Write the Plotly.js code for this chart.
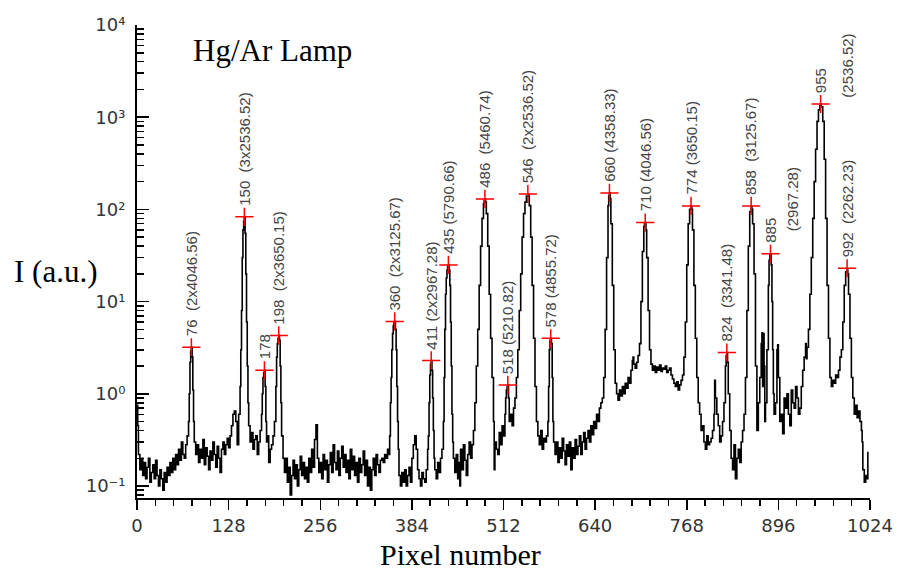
<!DOCTYPE html>
<html>
<head>
<meta charset="utf-8">
<script src="https://cdn.plot.ly/plotly-3.0.1.min.js"></script>
<style>html,body{margin:0;padding:0;background:#fff;}#chart{width:898px;height:574px;}</style>
</head>
<body>
<div id="chart"></div>
<script>
// Spectrum: [pixel, intensity (a.u.)]
const spectrum = [
[0,0.75],[1,0.45],[2,0.22],[4,0.15],[6,0.2],[8,0.13],[10,0.18],[12,0.12],[14,0.16],[16,0.2],[18,0.11],[20,0.14],[22,0.17],[24,0.12],[26,0.19],[28,0.13],[30,0.1],[32,0.15],[34,0.12],[36,0.09],[38,0.14],[40,0.11],[42,0.16],[44,0.13],[46,0.18],[48,0.14],[50,0.2],[52,0.15],[54,0.22],[56,0.17],[58,0.25],[60,0.19],[62,0.3],[64,0.22],[66,0.2],[68,0.28],[70,0.35],[72,0.5],[73,1.0],[74,2.2],[75,2.9],[76,3.2],[77,2.5],[78,1.1],[79,0.5],[80,0.3],
[82,0.22],[84,0.28],[86,0.18],[88,0.25],[90,0.2],[92,0.32],[94,0.17],[96,0.26],[98,0.21],[100,0.15],[102,0.24],[104,0.19],[106,0.3],[108,0.22],[110,0.16],[112,0.27],[114,0.2],[116,0.14],[118,0.25],[120,0.3],[122,0.22],[124,0.28],[126,0.33],[128,0.26],[130,0.35],[132,0.45],[134,0.6],[136,0.65],[138,0.5],[140,0.28],[142,0.6],[144,1.2],[145,3],[146,8],[147,30],[148,60],[149,75],[150,83],[151,55],[152,20],[153,6],[154,2],[155,0.8],[156,0.45],[158,0.3],[160,0.38],[162,0.25],[164,0.32],[166,0.35],[168,0.22],[170,0.3],[172,0.4],[174,0.6],[175,1.0],[176,1.5],[177,1.7],[178,1.8],[179,1.2],[180,0.5],[181,0.3],[182,0.35],[184,0.18],[186,0.25],[188,0.28],[190,0.35],[192,0.5],[194,1.2],[195,2.5],[196,3.5],[197,4.0],[198,4.3],[199,3.8],[200,2.0],[201,0.8],[202,0.35],[204,0.2],
[206,0.14],[208,0.2],[210,0.11],[212,0.16],[214,0.08],[216,0.13],[218,0.19],[220,0.12],[222,0.17],[224,0.1],[226,0.15],[228,0.21],[230,0.13],[232,0.18],[234,0.12],[236,0.16],[238,0.11],[240,0.2],[242,0.14],[244,0.25],[246,0.16],[248,0.32],[250,0.46],[252,0.2],[254,0.14],[256,0.18],[258,0.12],[260,0.22],[262,0.15],[264,0.19],[266,0.11],[268,0.17],[270,0.23],[272,0.14],[274,0.28],[276,0.18],[278,0.15],[280,0.24],[282,0.13],[284,0.2],[286,0.27],[288,0.16],[290,0.22],[292,0.14],[294,0.19],[296,0.12],[298,0.25],[300,0.15],[302,0.21],[304,0.13],[306,0.18],[308,0.11],[310,0.2],[312,0.14],[314,0.17],[316,0.24],[318,0.13],[320,0.19],[322,0.1],[324,0.16],[326,0.09],[328,0.15],[330,0.2],[332,0.13],[334,0.22],[336,0.17],[338,0.14],[340,0.19],[342,0.2],[344,0.18],[346,0.22],[348,0.2],[350,0.25],[352,0.22],
[353,0.35],[354,0.8],[355,1.5],[356,3],[357,4.5],[358,5.5],[359,6],[360,6.1],[361,5],[362,3],[363,1.2],[364,0.5],[365,0.25],[366,0.13],[368,0.1],[370,0.14],[372,0.11],[374,0.15],[376,0.1],[378,0.13],[380,0.16],[382,0.11],[384,0.2],[386,0.28],[388,0.35],[390,0.25],[392,0.15],[394,0.12],[396,0.1],[398,0.14],[400,0.12],[402,0.11],[404,0.15],[406,0.25],[407,0.35],[408,0.8],[409,1.6],[410,2.1],[411,2.3],[412,1.8],[413,0.9],[414,0.4],[415,0.2],[416,0.15],[418,0.12],[420,0.18],[422,0.14],[424,0.2],[426,0.25],[428,0.5],[429,1.5],[430,5],[431,12],[432,18],[433,22],[434,24],[435,25],[436,22],[437,15],[438,6],[439,2],[440,0.6],[441,0.3],
[442,0.2],[444,0.14],[446,0.22],[448,0.12],[450,0.18],[451,0.1],[452,0.25],[454,0.15],[456,0.28],[458,0.19],[460,0.13],[462,0.22],[464,0.3],[466,0.2],[468,0.28],[470,0.4],[472,0.8],[474,2],[476,5],[478,15],[480,40],[482,80],[484,115],[485,125],[486,130],[487,120],[488,90],[490,40],[492,12],[494,4],[496,1.5],[498,0.5],[499,0.15],[500,0.3],[502,0.25],[504,0.22],[506,0.38],[508,0.28],[510,0.45],[512,0.35],[514,0.6],[515,0.9],[516,1.1],[517,1.2],[518,1.25],[519,0.9],[520,0.5],[522,0.6],[524,0.45],[526,0.7],[528,0.9],[530,1.5],[532,3],[534,8],[536,20],[538,50],[540,90],[542,120],[544,140],[546,147],[547,140],[548,110],[550,50],[552,15],[554,4],[556,1.2],[558,0.5],[560,0.35],[562,0.28],[564,0.4],[566,0.25],[568,0.33],[570,0.3],[572,0.35],[574,0.5],[575,1.2],[576,3],[577,3.8],[578,4.0],[579,3.5],[580,1.5],[581,0.5],[582,0.3],
[584,0.22],[586,0.3],[588,0.18],[590,0.26],[592,0.2],[594,0.33],[596,0.24],[598,0.17],[600,0.28],[602,0.21],[604,0.3],[606,0.15],[608,0.26],[610,0.2],[612,0.32],[614,0.22],[616,0.27],[618,0.35],[620,0.22],[622,0.3],[624,0.38],[626,0.25],[628,0.33],[630,0.4],[632,0.3],[634,0.45],[636,0.36],[638,0.5],[640,0.42],[642,0.6],[644,0.5],[646,0.7],[648,0.8],[650,0.9],[652,1.5],[654,5],[656,30],[658,110],[659,140],[660,151],[661,130],[662,70],[664,15],[666,3],[668,1.3],[670,1.0],[672,0.85],[674,1.1],[676,0.95],[678,1.2],[680,1.0],[682,1.3],[684,1.15],[686,1.5],[688,1.3],[690,1.8],[692,2.3],[693,2.5],[694,2.1],[696,1.9],[698,2.2],[700,2.6],[702,3.5],[704,10],[706,35],[708,65],[709,70],[710,72],[711,60],[712,30],[714,8],[716,3],
[718,2.1],[720,1.8],[722,2.0],[724,1.7],[726,1.95],[728,1.8],[730,2.05],[732,1.75],[734,1.9],[736,1.85],[738,2.0],[740,1.7],[742,1.8],[744,1.9],[746,1.6],[748,1.45],[750,1.3],[752,1.2],[754,1.35],[756,1.1],[758,1.25],[760,1.4],[762,1.6],[764,2.5],[766,6],[768,25],[770,70],[772,100],[774,109],[775,100],[776,60],[778,15],[780,4],[782,1.5],[784,0.8],[786,0.6],[788,0.4],[790,0.45],[792,0.3],[794,0.25],[796,0.35],[798,0.28],[800,0.3],[802,0.33],[804,0.4],[806,0.6],[807,1.4],[808,0.9],[810,0.6],[812,0.45],[814,0.3],[816,0.35],[818,0.5],[820,0.8],[822,2.0],[823,2.6],[824,2.8],[825,2.2],[826,1.0],[828,0.4],[830,0.2],[832,0.15],[834,0.28],[836,0.12],[838,0.2],[840,0.25],[842,0.18],[844,0.3],[846,0.4],[848,0.6],[850,1.5],[852,8],[854,40],[856,95],[858,109],[859,100],[860,70],[862,20],[864,2],
[866,0.4],[868,0.8],[870,1.5],[872,3.5],[873,4.6],[874,1.2],[875,4.5],[876,2.0],[877,0.5],[878,0.8],[880,3],[882,15],[883,28],[884,32],[885,33],[886,25],[887,10],[888,3],[889,1.0],[890,0.6],[892,0.8],[894,3.0],[895,3.4],[896,1.5],[898,0.5],[900,0.6],[902,0.37],[904,0.9],[906,0.7],[908,1.0],[910,0.6],[912,0.45],[914,1.1],[916,0.8],[918,0.7],[920,1.2],[922,0.9],[924,0.6],[926,0.7],[928,1.2],[930,1.8],[932,2.5],[934,3.5],[935,2.4],[936,3.2],[938,5],[940,12],[942,30],[944,80],[946,200],[948,450],[950,900],[952,1200],[954,1350],[955,1390],[956,1300],[958,900],[960,350],[962,80],[964,15],[966,4],[968,1.5],[970,1.2],[972,1.4],[974,1.3],[976,1.6],[978,1.5],[980,1.8],[982,2.5],[984,3],[986,6],[988,15],[990,21],[992,23],[993,20],[994,12],[996,4],[998,1.5],[1000,0.9],[1002,0.6],[1004,0.75],[1006,0.55],[1008,0.65],[1010,0.5],[1012,0.4],[1013,0.3],[1014,0.15],[1016,0.11],[1018,0.13],[1020,0.12],[1021,0.23],[1022,0.23]
];
const pixel = spectrum.map(p => p[0]);
const intensity = spectrum.map(p => p[1]);

// Identified lines
const peakPixel     = [76, 150, 178, 198, 360, 411, 435, 486, 518, 546, 578, 660, 710, 774, 824, 858, 885, 955, 992];
const peakIntensity = [3.2, 83, 1.8, 4.3, 6.1, 2.3, 25, 130, 1.25, 147, 4.0, 151, 72, 109, 2.8, 109, 33, 1390, 23];
const peakLabel = [
  "76  (2x4046.56)", "150  (3x2536.52)", "178", "198  (2x3650.15)", "360  (2x3125.67)",
  "411 (2x2967.28)", "435 (5790.66)", "486  (5460.74)", "518 (5210.82)", "546  (2x2536.52)",
  "578 (4855.72)", "660 (4358.33)", "710 (4046.56)", "774 (3650.15)", "824  (3341.48)",
  "858  (3125.67)", "885", "955", "992  (2262.23)"
];
const peakNote = ["","","","","","","","","","","","","","","","","(2967.28)","(2536.52)",""];

const xTicks = [0, 128, 256, 384, 512, 640, 768, 896, 1024];
const yTicks = [0.1, 1, 10, 100, 1000, 10000];
const yTickText = ["10\u207b\u00b9", "10\u2070", "10\u00b9", "10\u00b2", "10\u00b3", "10\u2074"];

const yMinor = [0.08, 0.09];
for (let e = -1; e < 4; e++) for (let m = 2; m <= 9; m++) yMinor.push(m * Math.pow(10, e));

const labelFont = {family: "Liberation Sans, Arial, sans-serif", size: 15, color: "#444"};
const sp = s => s.replace(/ /g, "\u00a0");
// placement of the second text column (x shift, y shift in px) for split labels
const noteOffset = {885: [22, 20], 955: [26, 4]};

const annotations = [];
peakPixel.forEach((px, i) => {
  annotations.push({x: px, y: Math.log10(peakIntensity[i]), xref: "x", yref: "y", text: sp(peakLabel[i]),
    showarrow: false, textangle: -90, xanchor: "center", yanchor: "bottom", yshift: 9, font: labelFont});
  if (peakNote[i]) {
    const off = noteOffset[px] || [24, 6];
    annotations.push({x: px, y: Math.log10(peakIntensity[i]), xref: "x", yref: "y", text: sp(peakNote[i]),
      showarrow: false, textangle: -90, xanchor: "center", yanchor: "bottom", xshift: off[0], yshift: off[1], font: labelFont});
  }
});
const serif = "Liberation Serif, Times New Roman, serif";
annotations.push({xref: "paper", yref: "paper", x: 0.0737, y: 0.947, xanchor: "left", yanchor: "middle",
  text: "Hg/Ar Lamp", showarrow: false, font: {family: serif, size: 31, color: "#000"}});
annotations.push({xref: "paper", yref: "paper", x: 0.442, y: -0.158, xanchor: "center", yanchor: "bottom",
  text: "Pixel number", showarrow: false, font: {family: serif, size: 30, color: "#000"}});
annotations.push({xref: "paper", yref: "paper", x: -0.171, y: 0.478, xanchor: "left", yanchor: "middle",
  text: "I (a.u.)", showarrow: false, font: {family: serif, size: 31, color: "#000"}});

const traces = [
  {x: pixel, y: intensity, type: "scatter", mode: "lines", line: {color: "#000", width: 1.6, shape: "hv"},
   hoverinfo: "x+y", showlegend: false},
  {x: peakPixel, y: peakIntensity, type: "scatter", mode: "markers",
   marker: {symbol: "cross-thin", size: 13, line: {color: "#ff0000", width: 1.5}, color: "#ff0000"},
   showlegend: false}
];

const tickFont = {family: "DejaVu Sans, sans-serif", size: 18, color: "#333"};
const layout = {
  width: 898, height: 574,
  margin: {l: 137, r: 28, t: 25, b: 76},
  paper_bgcolor: "#fff", plot_bgcolor: "#fff",
  showlegend: false,
  xaxis: {range: [0, 1024], tickmode: "array", tickvals: xTicks, ticktext: xTicks.map(String),
    ticks: "outside", ticklen: 10, tickwidth: 1.5, tickcolor: "#000",
    showline: true, linecolor: "#000", linewidth: 2, showgrid: false, zeroline: false,
    tickfont: tickFont,
    minor: {ticks: "outside", ticklen: 6, tickwidth: 1.5, tickcolor: "#000", tick0: 0, dtick: 25.6, showgrid: false}},
  yaxis: {type: "log", range: [-1.13, 4], tickmode: "array", tickvals: yTicks, ticktext: yTickText,
    ticks: "inside", ticklen: 12, tickwidth: 1.5, tickcolor: "#000",
    showline: true, linecolor: "#000", linewidth: 2, showgrid: false, zeroline: false,
    tickfont: tickFont, ticklabelstandoff: 6,
    minor: {ticks: "inside", ticklen: 7, tickwidth: 1.5, tickcolor: "#000", tickmode: "array", tickvals: yMinor, showgrid: false}},
  annotations: annotations
};

Plotly.newPlot("chart", traces, layout, {displayModeBar: false, staticPlot: true});
</script>
</body>
</html>
